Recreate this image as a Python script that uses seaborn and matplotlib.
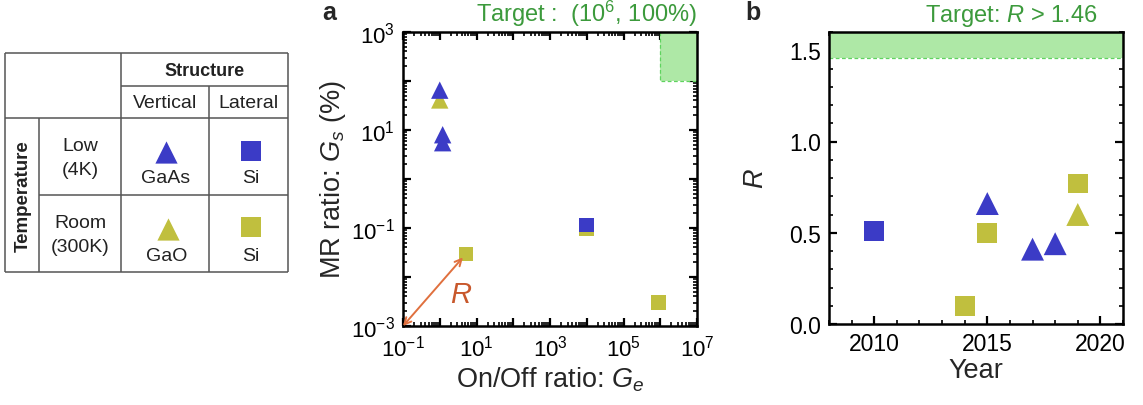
import numpy as np
import pandas as pd
import matplotlib
matplotlib.use("Agg")
import matplotlib.pyplot as plt
import matplotlib.ticker as mticker
import seaborn as sns

# ---------------- data ----------------
# panel a : On/Off ratio (Ge) vs MR ratio (Gs, %)
a_blue_tri_ge = [1.0, 1.2, 1.2]
a_blue_tri_gs = [65, 8.0, 5.5]
a_olive_tri_ge = [1.0]
a_olive_tri_gs = [41]
a_blue_sq_ge = [1e4]
a_blue_sq_gs = [0.115]
a_olive_sq_ge = [5.2, 1e4, 9e5]
a_olive_sq_gs = [0.0295, 0.095, 0.003]

# panel b : R vs year
b_blue_tri_year = [2015, 2017, 2018]
b_blue_tri_r = [0.66, 0.41, 0.44]
b_olive_tri_year = [2019]
b_olive_tri_r = [0.60]
b_blue_sq_year = [2010]
b_blue_sq_r = [0.51]
b_olive_sq_year = [2014, 2015, 2019]
b_olive_sq_r = [0.10, 0.50, 0.77]

target_ge = (1e6, 1e7)
target_gs = (1e2, 1e3)
target_r = 1.46

x_ticklabels_exp = [-1, 1, 3, 5, 7]
y_ticklabels_exp = [-3, -1, 1, 3]
year_ticks = [2010, 2015, 2020]
r_ticks = [0.0, 0.5, 1.0, 1.5]

BLUE = "#3B3BC6"
OLIVE = "#C0BF3E"
GREEN_FILL = "#AEE8A6"
GREEN_EDGE = "#5FD35F"
GREEN_TEXT = "#3C9A3C"
ORANGE = "#E0703E"
ORANGE_TXT = "#C8582C"
TABLE_LINE = "#555555"

sns.set_theme(style="ticks")
plt.rcParams["font.family"] = ["Liberation Sans", "DejaVu Sans"]
plt.rcParams["mathtext.fontset"] = "custom"
plt.rcParams["mathtext.rm"] = "Liberation Sans"
plt.rcParams["mathtext.it"] = "Liberation Sans:italic"
plt.rcParams["mathtext.bf"] = "Liberation Sans:bold"

W, H = 1143, 406
fig = plt.figure(figsize=(W / 100, H / 100), dpi=100)


def px_axes(x0, y0, x1, y1):
    return fig.add_axes([x0 / W, 1 - y1 / H, (x1 - x0) / W, (y1 - y0) / H])


def scatter(ax, x, y, marker, color, size):
    df = pd.DataFrame({"x": x, "y": y})
    sns.scatterplot(data=df, x="x", y="y", ax=ax, marker=marker, color=color,
                    s=size ** 2, linewidth=0, edgecolor="none", zorder=3, clip_on=False)


def style_axes(ax):
    for sp in ax.spines.values():
        sp.set_linewidth(1.8)
        sp.set_color("black")
    ax.tick_params(which="both", direction="in", top=True, right=True,
                   color="black", labelsize=16.5, labelcolor="black")
    ax.tick_params(which="major", length=5.5, width=1.6, pad=6)
    ax.tick_params(which="minor", length=3, width=1.2)


# ---------------- table ----------------
tax = fig.add_axes([0, 0, 300 / W, 1])
tax.set_xlim(0, 300)
tax.set_ylim(H, 0)
tax.axis("off")
xl, xt, xv, xm, xr = 5.3, 39.3, 120.7, 209.0, 288.3
yt, y1, y2, y3, yb = 54.3, 86.7, 119.3, 195.7, 272.7
lkw = dict(color=TABLE_LINE, lw=1.1, solid_capstyle="butt")
tax.plot([xl, xr], [yt, yt], **lkw)
tax.plot([xv, xr], [y1, y1], **lkw)
tax.plot([xl, xr], [y2, y2], **lkw)
tax.plot([xt, xr], [y3, y3], **lkw)
tax.plot([xl, xr], [yb, yb], **lkw)
tax.plot([xl, xl], [yt, yb], **lkw)
tax.plot([xt, xt], [y2, yb], **lkw)
tax.plot([xv, xv], [yt, yb], **lkw)
tax.plot([xm, xm], [y1, yb], **lkw)
tax.plot([xr, xr], [yt, yb], **lkw)
tk = dict(ha="center", va="center", fontsize=14, color="#222222")
tax.text((xv + xr) / 2, 71.5, "Structure", fontweight="bold", **{**tk, "fontsize": 13})
tax.text((xv + xm) / 2, 104, "Vertical", **tk)
tax.text((xm + xr) / 2, 104, "Lateral", **tk)
tax.text(23, 196, "Temperature", rotation=90, fontweight="bold", **{**tk, "fontsize": 13.5})
tax.text(80, 147, "Low", **tk)
tax.text(80, 171, "(4K)", **tk)
tax.text(80, 224, "Room", **tk)
tax.text(80, 248, "(300K)", **tk)
tax.text(166, 179, "GaAs", **tk)
tax.text(250.7, 179, "Si", **tk)
tax.text(167, 257, "GaO", **tk)
tax.text(250.7, 257, "Si", **tk)
tax.scatter([166], [152.5], marker="^", color=BLUE, s=16 ** 2, linewidth=0)
tax.scatter([250.7], [152.3], marker="s", color=BLUE, s=13.7 ** 2, linewidth=0)
tax.scatter([167.5], [229.5], marker="^", color=OLIVE, s=16 ** 2, linewidth=0)
tax.scatter([250.7], [228.3], marker="s", color=OLIVE, s=13.7 ** 2, linewidth=0)

# ---------------- panel a ----------------
axa = px_axes(403, 33, 697, 327)
axa.set_xscale("log")
axa.set_yscale("log")
axa.set_xlim(1e-1, 1e7)
axa.set_ylim(1e-3, 1e3)
axa.fill_between(target_ge, target_gs[0], target_gs[1], facecolor=GREEN_FILL,
                 edgecolor="none", zorder=1)
axa.plot([target_ge[0], target_ge[0], target_ge[1]],
         [target_gs[1], target_gs[0], target_gs[0]],
         color=GREEN_EDGE, lw=0.9, ls=(0, (3, 2)), zorder=1.5)

scatter(axa, a_olive_tri_ge, a_olive_tri_gs, "^", OLIVE, 12.5)
scatter(axa, a_olive_sq_ge, a_olive_sq_gs, "s", OLIVE, 10.5)
scatter(axa, a_blue_tri_ge, a_blue_tri_gs, "^", BLUE, 12.5)
scatter(axa, a_blue_sq_ge, a_blue_sq_gs, "s", BLUE, 10.5)

axa.annotate("", xy=(a_olive_sq_ge[0] * 0.82, a_olive_sq_gs[0] * 0.85),
             xytext=(1e-1, 1e-3),
             arrowprops=dict(arrowstyle="<->", color=ORANGE, lw=1.4,
                             shrinkA=0, shrinkB=0, mutation_scale=12),
             zorder=4, annotation_clip=False)
axa.text(3.9, 0.0044, "$R$", color=ORANGE_TXT, fontsize=21, ha="center", va="center")

axa.xaxis.set_major_locator(mticker.LogLocator(base=10, numticks=20))
axa.yaxis.set_major_locator(mticker.LogLocator(base=10, numticks=20))
axa.xaxis.set_minor_locator(mticker.LogLocator(base=10, subs=np.arange(2, 10), numticks=20))
axa.yaxis.set_minor_locator(mticker.LogLocator(base=10, subs=np.arange(2, 10), numticks=20))


def make_fmt(exps):
    def f(v, pos):
        e = int(round(np.log10(v)))
        return r"$10^{%d}$" % e if e in exps else ""
    return mticker.FuncFormatter(f)


axa.xaxis.set_major_formatter(make_fmt(x_ticklabels_exp))
axa.yaxis.set_major_formatter(make_fmt(y_ticklabels_exp))
axa.xaxis.set_minor_formatter(mticker.NullFormatter())
axa.yaxis.set_minor_formatter(mticker.NullFormatter())
style_axes(axa)
axa.tick_params(which="major", labelsize=16)
axa.set_xlabel("On/Off ratio: $G_e$", fontsize=19.5, labelpad=3)
axa.set_ylabel("MR ratio: $G_s$ (%)", fontsize=19.5, labelpad=2)
fig.text(322 / W, 1 - 13 / H, "a", fontsize=18, fontweight="bold", ha="left", va="center")
fig.text(697 / W, 1 - 22 / H, "Target :  (10$^{6}$, 100%)", fontsize=17, color=GREEN_TEXT,
         ha="right", va="baseline")

# ---------------- panel b ----------------
axb = px_axes(829, 33, 1123, 325)
axb.set_xlim(2008, 2021)
axb.set_ylim(0, 1.6)
axb.axhspan(target_r, 1.6, facecolor=GREEN_FILL, edgecolor="none", zorder=1)
axb.axhline(target_r, color=GREEN_EDGE, lw=0.9, ls=(0, (3, 2)), zorder=1.5)

scatter(axb, b_olive_sq_year, b_olive_sq_r, "s", OLIVE, 14.3)
scatter(axb, b_olive_tri_year, b_olive_tri_r, "^", OLIVE, 16.5)
scatter(axb, b_blue_sq_year, b_blue_sq_r, "s", BLUE, 14.3)
scatter(axb, b_blue_tri_year, b_blue_tri_r, "^", BLUE, 16.5)

axb.xaxis.set_major_locator(mticker.FixedLocator(year_ticks))
axb.xaxis.set_minor_locator(mticker.MultipleLocator(1))
axb.yaxis.set_major_locator(mticker.FixedLocator(r_ticks))
axb.yaxis.set_minor_locator(mticker.MultipleLocator(0.1))
axb.yaxis.set_major_formatter(mticker.FormatStrFormatter("%.1f"))
style_axes(axb)
axb.set_xlabel("Year", fontsize=19.5, labelpad=1)
axb.set_ylabel("$R$", fontsize=19.5, labelpad=14)
fig.text(745 / W, 1 - 13 / H, "b", fontsize=18, fontweight="bold", ha="left", va="center")
fig.text(1011 / W, 1 - 22 / H, "Target: $R$ > 1.46", fontsize=17, color=GREEN_TEXT,
         ha="center", va="baseline")

fig.savefig("out.png", dpi=100)
